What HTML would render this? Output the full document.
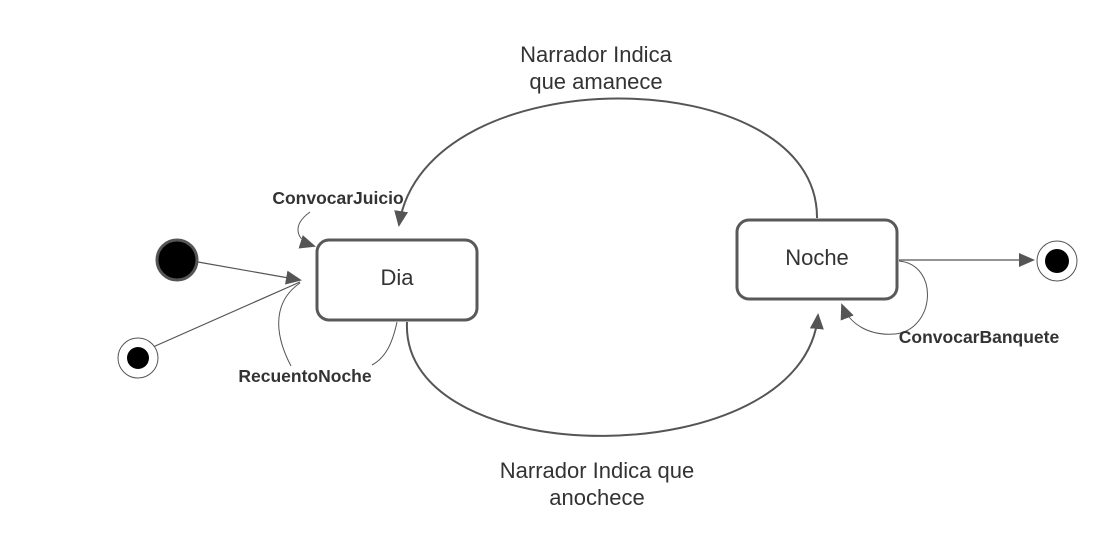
<!DOCTYPE html>
<html><head><meta charset="utf-8"><style>
html,body{margin:0;padding:0;background:#fff;}
svg{display:block;font-family:"Liberation Sans",sans-serif;}
</style></head><body>
<svg width="1117" height="560" viewBox="0 0 1117 560">
<defs>
<marker id="b" markerWidth="16" markerHeight="14" refX="14" refY="7" orient="auto" markerUnits="userSpaceOnUse" viewBox="0 0 16 14">
<path d="M0,0 L16,7 L0,14 z" fill="#555"/></marker>
</defs>
<g fill="none" stroke="#555">
<path d="M817,218 C818,60 425,55 399,225" stroke-width="2" marker-end="url(#b)"/>
<path d="M407,322 C400,475 805,475 818,315" stroke-width="2" marker-end="url(#b)"/>
<path d="M198,262 L300,280" stroke-width="1.2" marker-end="url(#b)"/>
<path d="M153,347 L300,282" stroke-width="1.2"/>
<path d="M310,212 C292,225 295,240 314,246" stroke-width="1" marker-end="url(#b)"/>
<path d="M291,366 C272,330 275,300 300,283" stroke-width="1"/>
<path d="M372,365 C385,358 392,345 397,322" stroke-width="1"/>
<path d="M899,260 L1033,260" stroke-width="1.2" marker-end="url(#b)"/>
<path d="M899,261 C940,265 935,330 895,334 C870,336 850,325 842,305" stroke-width="1" marker-end="url(#b)"/>
</g>
<rect x="317" y="240" width="160" height="80" rx="12" fill="#fff" stroke="#595959" stroke-width="3"/>
<rect x="737" y="220" width="160" height="79" rx="12" fill="#fff" stroke="#595959" stroke-width="3"/>
<circle cx="177" cy="260" r="20" fill="#000" stroke="#555" stroke-width="3"/>
<circle cx="138" cy="358" r="20" fill="#fff" stroke="#555" stroke-width="1"/>
<circle cx="138" cy="358" r="11" fill="#000"/>
<circle cx="1057" cy="261" r="20" fill="#fff" stroke="#555" stroke-width="1"/>
<circle cx="1057" cy="261" r="12" fill="#000"/>
<g fill="#333" text-anchor="middle">
<text x="397" y="285" font-size="22">Dia</text>
<text x="817" y="265" font-size="22">Noche</text>
<text x="596" y="62" font-size="22">Narrador Indica</text>
<text x="596" y="89" font-size="22">que amanece</text>
<text x="597" y="478" font-size="22">Narrador Indica que</text>
<text x="597" y="505" font-size="22">anochece</text>
<text x="338" y="204" font-size="17.5" font-weight="bold">ConvocarJuicio</text>
<text x="305" y="382" font-size="17.5" font-weight="bold">RecuentoNoche</text>
<text x="979" y="343" font-size="17.5" font-weight="bold">ConvocarBanquete</text>
</g>
</svg>
</body></html>
